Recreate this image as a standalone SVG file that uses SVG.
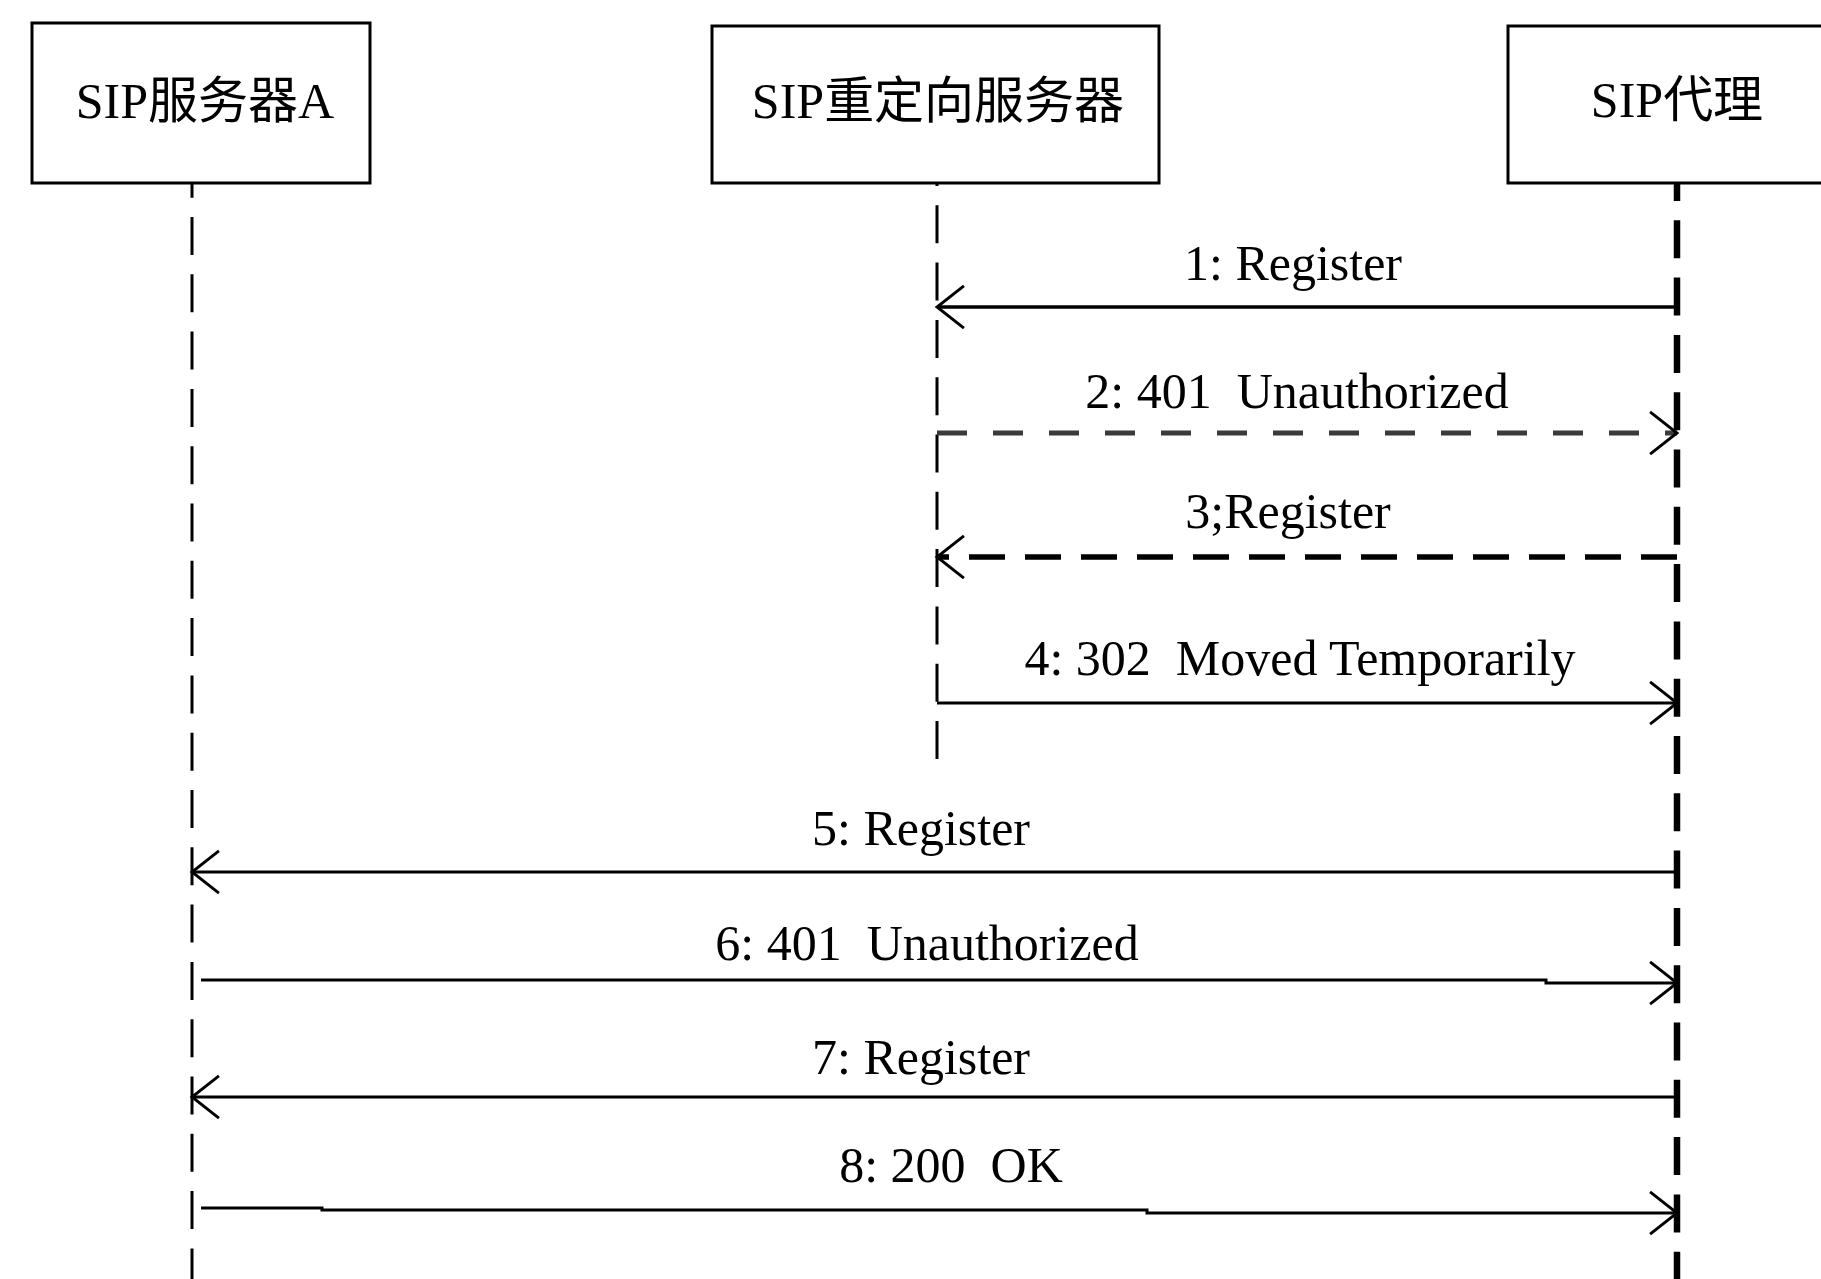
<svg xmlns="http://www.w3.org/2000/svg" width="1821" height="1279" viewBox="0 0 1821 1279">
<style>
.box{fill:#fff;stroke:#000;stroke-width:3}
.lbl{font-family:"Liberation Serif","Noto Sans CJK SC",serif;font-size:50px;fill:#000;text-anchor:middle;white-space:pre}
.life{fill:none;stroke:#000;stroke-dasharray:38 19.3}
.msg{fill:none;stroke:#000}
</style>
<defs>
<marker id="open" markerUnits="userSpaceOnUse" markerWidth="40" markerHeight="50" viewBox="-32 -26 36 52" refX="0" refY="0" orient="auto" overflow="visible">
<path d="M-28,-22 L0,0 L-28,22" fill="none" stroke="#000" stroke-width="3"/>
</marker>
</defs>
<rect width="1821" height="1279" fill="#fff"/>
<g id="node-sipA">
<rect class="box" x="32" y="23" width="338" height="160"/>
<text class="lbl" x="205" y="118">SIP服务器A</text>
</g>
<g id="node-redirect">
<rect class="box" x="712" y="26" width="447" height="157"/>
<text class="lbl" x="938" y="118">SIP重定向服务器</text>
</g>
<g id="node-proxy">
<rect class="box" x="1508" y="26" width="330" height="157"/>
<text class="lbl" x="1677" y="117">SIP代理</text>
</g>
<g id="lifelines">
<line class="life" x1="192" y1="183" x2="192" y2="1279" style="stroke-width:3;stroke-dashoffset:23.3"/>
<line class="life" x1="937" y1="183" x2="937" y2="760" style="stroke-width:3;stroke-dashoffset:35"/>
<line class="life" x1="1677" y1="183" x2="1677" y2="1279" style="stroke-width:6.5;stroke-dashoffset:20"/>
</g>
<g id="connectors">
<path class="msg" d="M1677,307 H937" style="stroke-width:3.5" marker-end="url(#open)"/>
<path class="msg" d="M937,433 H1677" style="stroke:#3a3a3a;stroke-width:5;stroke-dasharray:30 26" marker-end="url(#open)"/>
<path class="msg" d="M1677,557 H937" style="stroke-width:5.5;stroke-dasharray:36 20" marker-end="url(#open)"/>
<path class="msg" d="M937,703 H1677" style="stroke-width:3.2" marker-end="url(#open)"/>
<path class="msg" d="M1677,872 H192" style="stroke-width:3" marker-end="url(#open)"/>
<path class="msg" d="M201,980 H1546 V983 H1677" style="stroke-width:3" marker-end="url(#open)"/>
<path class="msg" d="M1677,1097 H192" style="stroke-width:3" marker-end="url(#open)"/>
<path class="msg" d="M201,1208 H322 V1210 H1147 V1213 H1677" style="stroke-width:3" marker-end="url(#open)"/>
</g>
<g id="labels">
<text class="lbl" x="1293" y="280">1: Register</text>
<text class="lbl" x="1297" y="408">2: 401  Unauthorized</text>
<text class="lbl" x="1288" y="528">3;Register</text>
<text class="lbl" x="1300" y="675">4: 302  Moved Temporarily</text>
<text class="lbl" x="921" y="845">5: Register</text>
<text class="lbl" x="927" y="960">6: 401  Unauthorized</text>
<text class="lbl" x="921" y="1074">7: Register</text>
<text class="lbl" x="951" y="1182">8: 200  OK</text>
</g>
</svg>
